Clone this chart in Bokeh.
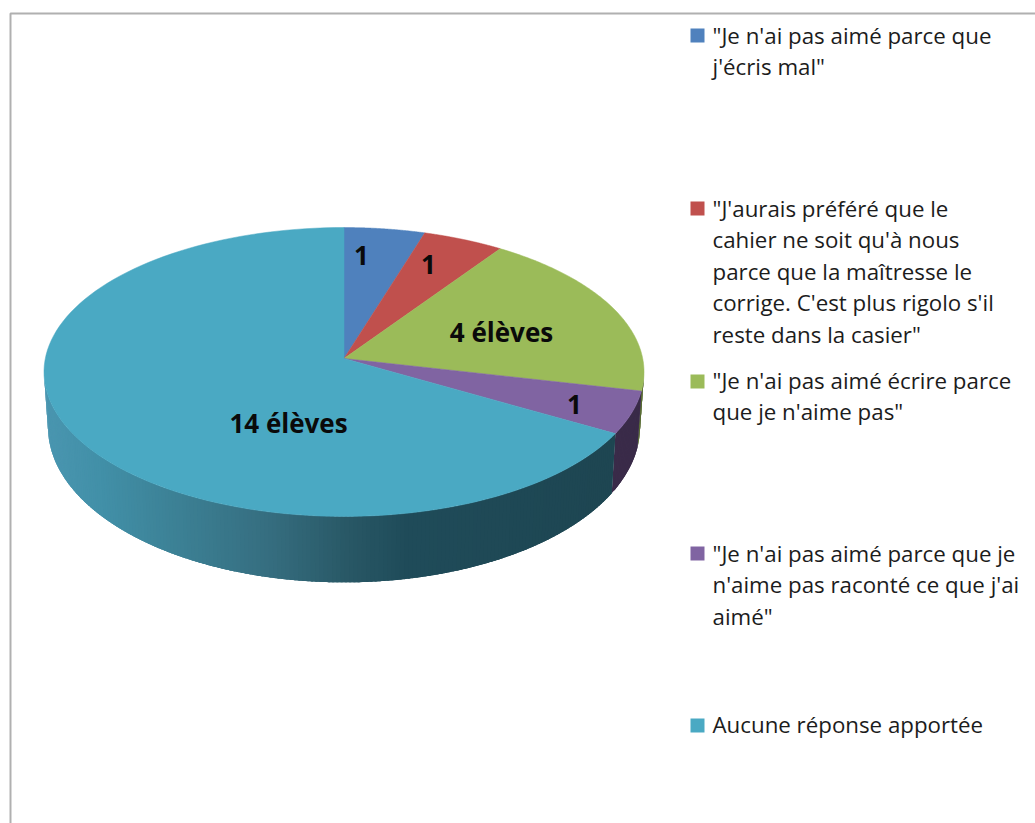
import numpy as np
from bokeh.plotting import figure
from bokeh.models import Range1d
from bokeh.core.properties import value
from bokeh.embed import file_html
from bokeh.resources import INLINE

# ---- data -------------------------------------------------------------
categories = [
    ['"Je n\'ai pas aimé parce que', 'j\'écris mal"'],
    ['"J\'aurais préféré que le', 'cahier ne soit qu\'à nous', 'parce que la maîtresse le',
     'corrige. C\'est plus rigolo s\'il', 'reste dans la casier"'],
    ['"Je n\'ai pas aimé écrire parce', 'que je n\'aime pas"'],
    ['"Je n\'ai pas aimé parce que je', 'n\'aime pas raconté ce que j\'ai', 'aimé"'],
    ['Aucune réponse apportée'],
]
values = [1, 1, 4, 1, 14]
slice_labels = ["1", "1", "4 élèves", "1", "14 élèves"]

# ---- styles and layout ------------------------------------------------
top_colors = ["#4f81bd", "#c0504d", "#9bbb59", "#8064a2", "#4aa9c3"]
wall_colors = ["#2a4464", "#662a28", "#55682f", "#3a2b49", None]
wall_stops_x = [48, 100, 180, 267, 340, 400, 612]
wall_stops_rgb = [(74, 150, 176), (66, 144, 168), (60, 128, 148), (54, 110, 128),
                  (42, 90, 104), (32, 76, 90), (30, 70, 82)]
label_pos = [(361, 255), (428, 264), (501, 331), (574, 404), (288, 422)]
legend_swatch_y = [35, 208, 381, 553, 725]
legend_first_line_y = [35, 208, 380, 553, 724]
legend_line_h = 31.4
CX, CY, A, B, K = 343.5, 358.0, 298.7, 143.2, 0.0934
A2, B2, Y2 = 294.7, 154.0, 412.0
W, H = 1035, 823


def top(theta, r=1.0):
    u, v = np.sin(theta) * r, np.cos(theta) * r
    d = 1 + K * v
    return CX + A * u / d, CY - B * v / d


def bottom(theta):
    u, v = np.sin(theta), np.cos(theta)
    d = 1 + K * v
    return CX + A2 * u / d, Y2 - B2 * v / d


p = figure(width=W, height=H, output_backend="svg", toolbar_location=None,
           x_range=Range1d(0, W), y_range=Range1d(H, 0),
           x_axis_type=None, y_axis_type=None, min_border=0)
p.grid.visible = False
p.outline_line_color = None
p.background_fill_color = "white"
p.border_fill_color = "white"

# frame of the chart area (left and top edges are the only ones visible)
p.line([10, 10, W], [H, 13, 13], line_color="#b0b0b0", line_width=2)

edges = np.cumsum([0] + values) / sum(values) * 2 * np.pi
vis_lo, vis_hi = np.radians(95.4), np.radians(264.6)

# side wall, one narrow overlapping band at a time so that the shading can vary
for i in range(len(values)):
    lo, hi = max(edges[i], vis_lo), min(edges[i + 1], vis_hi)
    if hi <= lo:
        continue
    step = np.radians(0.75)
    a = hi
    while a > lo + 1e-6:
        b = max(lo, a - 2.5 * step)
        ts = np.linspace(a, b, 5)
        tx, ty = top(ts)
        bx, by = bottom(ts)
        xs = np.concatenate([tx, bx[::-1]])
        ys = np.concatenate([ty, by[::-1]])
        if wall_colors[i] is None:
            xm = (tx[0] + bx[0]) / 2
            c = [int(np.interp(xm, wall_stops_x, [s[j] for s in wall_stops_rgb])) for j in range(3)]
            col = "#%02x%02x%02x" % tuple(c)
        else:
            col = wall_colors[i]
        p.patch(xs, ys, fill_color=col, line_color=None)
        a -= step

# top face
for i in range(len(values)):
    t = np.linspace(edges[i], edges[i + 1], 120)
    x, y = top(t)
    p.patch(np.r_[CX, x], np.r_[CY, y], fill_color=top_colors[i],
            line_color=top_colors[i], line_width=0.5)

# slice labels
for (lx, ly), s in zip(label_pos, slice_labels):
    p.text([lx], [ly], text=[s], text_align="center", text_baseline="middle",
           text_font=value("Open Sans"), text_font_style="bold",
           text_font_size="26px", text_color="#0a0a0a")

# legend
for i, lines in enumerate(categories):
    p.rect([697], [legend_swatch_y[i]], width=14, height=14,
           fill_color=top_colors[i], line_color=None)
    for j, s in enumerate(lines):
        p.text([712], [legend_first_line_y[i] + j * legend_line_h], text=[s],
               text_align="left", text_baseline="middle",
               text_font=value("Open Sans"), text_font_size="22.3px",
               text_color="#1c1c1c")

open("out.html", "w").write(file_html(p, INLINE))
